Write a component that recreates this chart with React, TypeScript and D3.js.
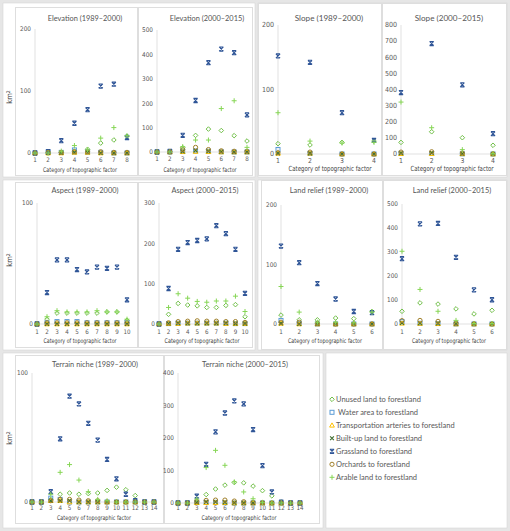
import React from "react";
import * as d3 from "d3";

// ---------- DATA ----------
const SERIES_NAMES = [
  "Unused land to forestland",
  "Water area to forestland",
  "Transportation arteries to forestland",
  "Built-up land to forestland",
  "Grassland to forestland",
  "Orchards to forestland",
  "Arable land to forestland",
];

// each chart: [unused, water, transport, builtup, grassland, orchards, arable]
const ELEVATION_1989: number[][] = [
  [0, 0, 1, 3, 6, 16, 21, 27],
  [0, 2, 1, 5, 2, 1, 0, 0],
  [0, 0, 0, 1, 1, 0, 0, 0],
  [0, 0, 0, 1, 1, 0, 0, 0],
  [0, 2, 20, 48, 70, 108, 111, 25],
  [0, 1, 1, 2, 2, 2, 1, 1],
  [0, 0, 3, 12, 5, 24, 41, 28],
];
const ELEVATION_2000: number[][] = [
  [0, 0, 18, 68, 94, 88, 67, 45],
  [0, 1, 3, 4, 3, 1, 0, 0],
  [0, 0, 1, 2, 1, 0, 0, 0],
  [0, 0, 2, 6, 3, 1, 0, 0],
  [0, 2, 68, 211, 366, 422, 407, 152],
  [0, 1, 10, 19, 10, 5, 3, 3],
  [0, 0, 22, 49, 49, 178, 210, 19],
];
const SLOPE_1989: number[][] = [
  [16, 14, 18, 20],
  [7, 1, 0, 0],
  [1, 1, 0, 0],
  [1, 1, 0, 0],
  [152, 142, 64, 21],
  [2, 3, 0, 0],
  [64, 20, 17, 18],
];
const SLOPE_2000: number[][] = [
  [72, 138, 101, 54],
  [4, 3, 1, 0],
  [2, 2, 1, 0],
  [5, 6, 2, 0],
  [381, 685, 429, 126],
  [12, 14, 6, 1],
  [322, 163, 27, 2],
];
const ASPECT_1989: number[][] = [
  [0, 4, 9, 9, 9, 9, 9, 10, 10, 3],
  [0, 1, 2, 2, 2, 1, 1, 1, 1, 1],
  [0, 0, 0, 0, 0, 0, 0, 0, 0, 0],
  [0, 0, 0, 0, 0, 0, 0, 0, 0, 0],
  [0, 26, 53, 53, 45, 43, 47, 46, 47, 20],
  [0, 1, 1, 1, 1, 1, 1, 1, 1, 1],
  [0, 6, 11, 10, 10, 10, 11, 10, 10, 4],
];
const ASPECT_2000: number[][] = [
  [0, 24, 51, 47, 45, 41, 41, 46, 48, 18],
  [0, 1, 2, 2, 2, 2, 2, 2, 1, 1],
  [0, 1, 1, 2, 2, 2, 2, 1, 1, 1],
  [0, 1, 2, 2, 2, 2, 2, 2, 1, 1],
  [0, 88, 185, 202, 207, 211, 244, 224, 185, 76],
  [0, 3, 6, 7, 8, 7, 7, 6, 6, 4],
  [0, 41, 75, 64, 56, 54, 57, 57, 69, 31],
];
const RELIEF_1989: number[][] = [
  [15, 7, 7, 10, 9, 21],
  [6, 1, 0, 0, 0, 0],
  [1, 0, 0, 0, 0, 0],
  [1, 0, 0, 0, 0, 0],
  [131, 103, 68, 42, 21, 19],
  [3, 3, 1, 0, 0, 0],
  [63, 20, 3, 3, 2, 20],
];
const RELIEF_2000: number[][] = [
  [53, 88, 83, 63, 42, 57],
  [10, 3, 2, 0, 0, 0],
  [3, 2, 1, 0, 0, 0],
  [4, 3, 2, 1, 0, 0],
  [272, 417, 419, 278, 142, 101],
  [14, 15, 11, 3, 1, 0],
  [303, 144, 53, 15, 2, 2],
];
const NICHE_1989: number[][] = [
  [0, 0, 2, 6, 7, 6, 6.5, 7, 9, 11.5, 9.5, 5, 0, 0],
  [0, 0, 3, 2, 0, 0, 0, 0, 0, 0, 0, 0, 0, 0],
  [0, 0, 1, 1, 0, 0, 0, 0, 0, 0, 0, 0, 0, 0],
  [0, 0, 1, 1, 1, 0, 0, 0, 0, 0, 0, 0, 0, 0],
  [0, 0, 8, 49, 82, 76, 61, 48, 33, 18, 6, 1, 0, 0],
  [0, 0, 1, 2, 2, 1.5, 1, 1, 0, 0, 0, 0, 0, 0],
  [0, 0, 6, 23, 29, 17, 8, 2, 1, 0, 0, 0, 0, 0],
];
const NICHE_2000: number[][] = [
  [0, 0, 3, 26, 43, 55, 63, 62, 52, 38, 22, 3, 0, 0],
  [0, 0, 2, 2, 2, 1, 0, 0, 0, 0, 0, 0, 0, 0],
  [0, 0, 1, 1, 1, 1, 0, 0, 0, 0, 0, 0, 0, 0],
  [0, 0, 2, 3, 3, 2, 1, 0, 0, 0, 0, 0, 0, 0],
  [0, 0, 21, 119, 219, 277, 314, 305, 226, 115, 34, 3, 0, 0],
  [0, 0, 5, 8, 9, 9, 6, 4, 2, 1, 0, 0, 0, 0],
  [0, 0, 12, 109, 162, 116, 65, 34, 13, 2, 0, 0, 0, 0],
];

// ---------- STYLE / LAYOUT ----------
const COLORS = ["#72c04a", "#5b9bd5", "#ffc000", "#3f6e2f", "#2f5597", "#a0802a", "#86d655"];
const AXIS_FONT = "'Liberation Sans Narrow', 'DejaVu Sans Condensed', 'Arial Narrow', sans-serif";
const TITLE_FONT = "Lato, 'Open Sans', sans-serif";

type Spec = {
  title: string;
  data: number[][];
  max: number;
  frame: [number, number, number, number];
  px: [number, number];
  py: [number, number];
  tx: number;
  ty: number;
  lx: number;
  ly: number;
  labelW: number;
  fs: number;
  tickDy: number;
  ylab?: [number, number];
};

const CHARTS: Spec[] = [
  { title: "Elevation (1989–2000)", data: ELEVATION_1989, max: 200, frame: [15, 7, 138, 176], px: [35, 127], py: [153, 29], tx: 85, ty: 21, lx: 80, ly: 172, labelW: 74, fs: 1, tickDy: 9, ylab: [12, 97] },
  { title: "Elevation (2000–2015)", data: ELEVATION_2000, max: 500, frame: [138, 7, 253, 176], px: [157, 247], py: [152, 30], tx: 207, ty: 21, lx: 200, ly: 172, labelW: 73, fs: 1, tickDy: 9 },
  { title: "Slope (1989–2000)", data: SLOPE_1989, max: 200, frame: [258, 3, 382, 176], px: [278, 374], py: [154, 25], tx: 329, ty: 21, lx: 330, ly: 171, labelW: 83, fs: 1.1, tickDy: 8.5 },
  { title: "Slope (2000–2015)", data: SLOPE_2000, max: 800, frame: [382, 3, 507, 176], px: [401, 493], py: [154, 25], tx: 449, ty: 21, lx: 452, ly: 171, labelW: 83, fs: 1.1, tickDy: 8.5 },
  { title: "Aspect (1989–2000)", data: ASPECT_1989, max: 100, frame: [15, 182, 138, 348], px: [37, 127], py: [324, 203], tx: 85, ty: 193, lx: 80, ly: 343, labelW: 73, fs: 1, tickDy: 9.5, ylab: [12, 260] },
  { title: "Aspect (2000–2015)", data: ASPECT_2000, max: 300, frame: [138, 182, 253, 348], px: [159, 245], py: [324, 203], tx: 205, ty: 193, lx: 202, ly: 343, labelW: 75, fs: 1, tickDy: 9.5 },
  { title: "Land relief (1989–2000)", data: RELIEF_1989, max: 200, frame: [261, 180, 383, 350], px: [281, 372], py: [324, 205], tx: 329, ty: 193, lx: 325, ly: 343, labelW: 74, fs: 1, tickDy: 9.5 },
  { title: "Land relief (2000–2015)", data: RELIEF_2000, max: 500, frame: [383, 180, 507, 350], px: [402, 492], py: [324, 204], tx: 452, ty: 193, lx: 449, ly: 343, labelW: 74, fs: 1, tickDy: 9.5 },
  { title: "Terrain niche (1989–2000)", data: NICHE_1989, max: 100, frame: [15, 355, 164, 524], px: [32, 154], py: [502, 373], tx: 95, ty: 367, lx: 94, ly: 519.5, labelW: 74, fs: 1, tickDy: 7.5 },
  { title: "Terrain niche (2000–2015)", data: NICHE_2000, max: 400, frame: [164, 355, 320, 524], px: [178, 300], py: [503, 373], tx: 245, ty: 367, lx: 239, ly: 519.5, labelW: 75, fs: 1, tickDy: 7 },
];

const Y_LABEL_NICHE: [number, number] = [12, 438];
CHARTS[8].ylab = Y_LABEL_NICHE;

const GROUPS: [number, number, number, number][] = [
  [3, 3, 255, 177],
  [258, 3, 507, 177],
  [3, 180, 255, 350],
  [258, 180, 507, 350],
  [3, 353, 323, 528],
  [326, 353, 507, 528],
];

function Marker({ s, x, y }: { s: number; x: number; y: number }) {
  const c = COLORS[s];
  switch (s) {
    case 0: {
      const h = 2.3;
      return <path d={`M${x},${y - h}L${x + h},${y}L${x},${y + h}L${x - h},${y}Z`} fill="none" stroke={c} strokeWidth={1} />;
    }
    case 1:
      return <rect x={x - 2} y={y - 2} width={4} height={4} fill="none" stroke={c} strokeWidth={1} />;
    case 2:
      return <path d={`M${x},${y - 2.4}L${x + 2.4},${y + 1.8}L${x - 2.4},${y + 1.8}Z`} fill="none" stroke={c} strokeWidth={1} />;
    case 3: {
      const h = 1.9;
      return <path d={`M${x - h},${y - h}L${x + h},${y + h}M${x + h},${y - h}L${x - h},${y + h}`} fill="none" stroke={c} strokeWidth={1.1} />;
    }
    case 4: {
      const h = 2.1;
      return (
        <path
          d={`M${x - h},${y - h}L${x + h},${y + h}M${x + h},${y - h}L${x - h},${y + h}M${x - h},${y - h}L${x + h},${y - h}M${x - h},${y + h}L${x + h},${y + h}`}
          fill="none"
          stroke={c}
          strokeWidth={1.1}
        />
      );
    }
    case 5:
      return <circle cx={x} cy={y} r={2.1} fill="none" stroke={c} strokeWidth={1} />;
    default: {
      const h = 2.5;
      return <path d={`M${x - h},${y}L${x + h},${y}M${x},${y - h}L${x},${y + h}`} fill="none" stroke={c} strokeWidth={1} />;
    }
  }
}

function Chart({ spec }: { spec: Spec }) {
  const n = spec.data[0].length;
  const x = d3.scaleLinear().domain([1, n]).range(spec.px);
  const y = d3.scaleLinear().domain([0, spec.max]).range(spec.py);
  const ticks = d3.range(0, spec.max + 1, 100);
  const cats = d3.range(1, n + 1);
  const [fx0, fy0, fx1, fy1] = spec.frame;
  const fs = spec.fs;
  return (
    <g>
      <rect x={fx0 + 0.5} y={fy0 + 0.5} width={fx1 - fx0 - 1} height={fy1 - fy0 - 1} fill="#fff" stroke="#dedede" strokeWidth={1} />
      <text x={spec.tx} y={spec.ty} textAnchor="middle" fontFamily={TITLE_FONT} fontSize={7.4 * fs} fill="#555555">
        {spec.title}
      </text>
      <line x1={x(1)} x2={x(1)} y1={y(0)} y2={y(spec.max)} stroke="#d9d9d9" strokeWidth={0.8} />
      <line x1={x(1)} x2={x(n)} y1={y(0)} y2={y(0)} stroke="#d9d9d9" strokeWidth={0.8} />
      {ticks.map((t) => (
        <text key={t} x={x(1) - 4} y={y(t) + 2.3} textAnchor="end" fontFamily={AXIS_FONT} fontSize={6.4 * fs} fill="#595959">
          {t}
        </text>
      ))}
      {cats.map((c) => (
        <text key={c} x={x(c)} y={y(0) + spec.tickDy} textAnchor="middle" fontFamily={AXIS_FONT} fontSize={6.2 * fs} fill="#595959">
          {c}
        </text>
      ))}
      <text
        x={spec.lx}
        y={spec.ly}
        textAnchor="middle"
        fontFamily={AXIS_FONT}
        fontSize={6.4 * fs}
        fill="#404040"
        textLength={spec.labelW}
        lengthAdjust="spacingAndGlyphs"
      >
        Category of topographic factor
      </text>
      {spec.ylab && (
        <text
          transform={`translate(${spec.ylab[0]},${spec.ylab[1]}) rotate(-90)`}
          textAnchor="middle"
          fontFamily={AXIS_FONT}
          fontSize={7.5}
          fill="#404040"
        >
          km<tspan dy={-2.5} fontSize={5}>2</tspan>
        </text>
      )}
      {spec.data.map((vals, s) => (
        <g key={s}>
          {vals.map((v, i) => (
            <Marker key={i} s={s} x={x(i + 1)} y={y(v)} />
          ))}
        </g>
      ))}
    </g>
  );
}

function Legend() {
  const ly = d3.scaleLinear().domain([0, SERIES_NAMES.length - 1]).range([399.3, 477.3]);
  return (
    <g>
      {SERIES_NAMES.map((name, i) => (
        <g key={name}>
          <Marker s={i} x={332} y={ly(i)} />
          <text x={i === 1 ? 338 : 336} y={ly(i) + 2.6} fontFamily={TITLE_FONT} fontSize={7.5} fill="#595959">
            {name}
          </text>
        </g>
      ))}
    </g>
  );
}

export default function App() {
  return (
    <svg width={510} height={531} style={{ position: "absolute", left: 0, top: 0 }}>
      <rect x={0} y={0} width={510} height={531} fill="#e6e6e6" />
      {GROUPS.map((g, i) => (
        <rect key={i} x={g[0]} y={g[1]} width={g[2] - g[0]} height={g[3] - g[1]} fill="#fff" stroke="#d6d6d6" strokeWidth={0.6} />
      ))}
      {CHARTS.map((c) => (
        <Chart key={c.title} spec={c} />
      ))}
      <Legend />
    </svg>
  );
}
